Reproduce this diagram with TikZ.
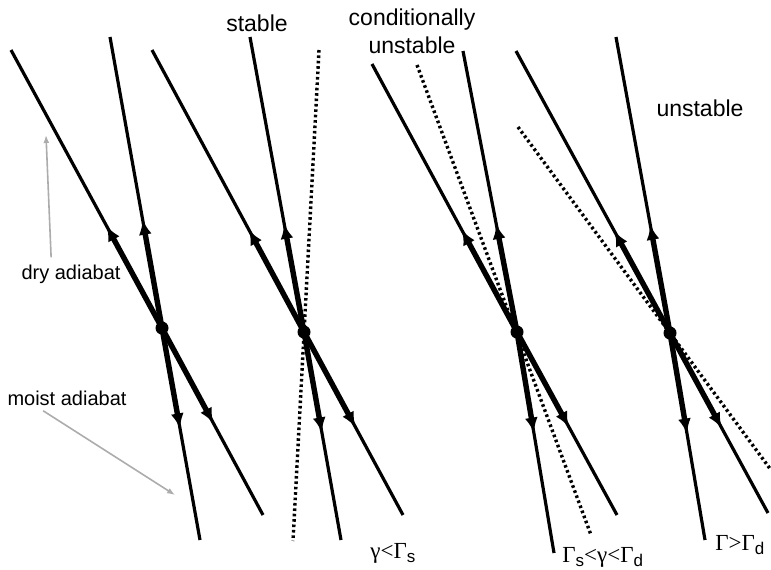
\documentclass[tikz,border=0pt]{standalone}
\usepackage{fontspec}
\setmainfont{Liberation Sans}
\newfontfamily\grfont{Liberation Serif}
\usetikzlibrary{arrows.meta,calc}
\newcommand\lsub[1]{\raisebox{-.4ex}{\fontsize{8.5}{8.5}\selectfont\rmfamily #1}}

\begin{document}
\begin{tikzpicture}[x=0.5pt,y=-0.5pt,
  adiabat/.style={line width=1.6pt,line join=round},
  envir/.style={line width=1.7pt,dash pattern=on 1.3pt off 1.4pt},
  flow/.style={line width=2.7pt,-{Latex[length=7.5pt,width=6.5pt]}},
  parcel/.style={circle,fill,inner sep=0pt,minimum size=6.5pt},
  pointer/.style={gray!65,line width=0.8pt,-{Latex[length=4pt,width=3pt]}},
  title/.style={font=\fontsize{11.5}{14}\selectfont,inner sep=0pt},
  side/.style={font=\fontsize{10}{12}\selectfont,inner sep=0pt},
  cond/.style={font=\fontsize{11.5}{12}\selectfont\grfont,inner sep=0pt,anchor=base west}]
\useasboundingbox (0,0) rectangle (771,569);

% parcels
\node[parcel] (p1) at (162,328) {};
\node[parcel] (p2) at (304,332) {};
\node[parcel] (p3) at (517,332) {};
\node[parcel] (p4) at (670,333) {};

% ends of the adiabats (d = dry, m = moist) and of the environment (e)
\coordinate (d1t) at (11,50);   \coordinate (d1b) at (263,515);
\coordinate (m1t) at (110,37);  \coordinate (m1b) at (200,540);
\coordinate (d2t) at (152,50);  \coordinate (d2b) at (403,515);
\coordinate (m2t) at (250,37);  \coordinate (m2b) at (341,540);
\coordinate (e2t) at (319,50);  \coordinate (e2b) at (293,541);
\coordinate (d3t) at (372,64);  \coordinate (d3b) at (617,515);
\coordinate (m3t) at (463,51);  \coordinate (m3b) at (554,553);
\coordinate (e3t) at (417,65);  \coordinate (e3b) at (591,535);
\coordinate (d4t) at (516,51);  \coordinate (d4b) at (768,513);
\coordinate (m4t) at (616,37);  \coordinate (m4b) at (705,540);
\coordinate (e4t) at (518,127); \coordinate (e4b) at (771,470);

\foreach\i in{1,...,4}{
  \draw[adiabat] (d\i t) -- (p\i.center) -- (d\i b);
  \draw[adiabat] (m\i t) -- (p\i.center) -- (m\i b);
  \draw[flow] (p\i.center) -- ($(p\i.center)!58pt!(d\i t)$);
  \draw[flow] (p\i.center) -- ($(p\i.center)!54pt!(d\i b)$);
  \draw[flow] (p\i.center) -- ($(p\i.center)!55pt!(m\i t)$);
  \draw[flow] (p\i.center) -- ($(p\i.center)!51pt!(m\i b)$);
}
\foreach\i in{2,3,4} \draw[envir] (e\i t) -- (e\i b);

% labels
\node[title] (stable) at (257,23) {stable};
\node[title,align=center] (condunst) at (412,31) {conditionally\\unstable};
\node[title] (unstable) at (700,108) {unstable};
\node[cond] (case1) at (370,558) {γ<Γ\lsub{s}};
\node[cond] (case2) at (562,562) {Γ\lsub{s}<γ<Γ\lsub{d}};
\node[cond] (case3) at (715,550) {Γ>Γ\lsub{d}};

\node[side] (dry) at (71,274) {dry adiabat};
\node[side] (moist) at (67,398) {moist adiabat};
\coordinate (dryto) at (46,135);
\coordinate (moistto) at (175,495);
\draw[pointer] (dry.north west) ++(30,-7) -- (dryto);
\draw[pointer] (moist.south west) ++(36,5) -- (moistto);
\end{tikzpicture}
\end{document}
